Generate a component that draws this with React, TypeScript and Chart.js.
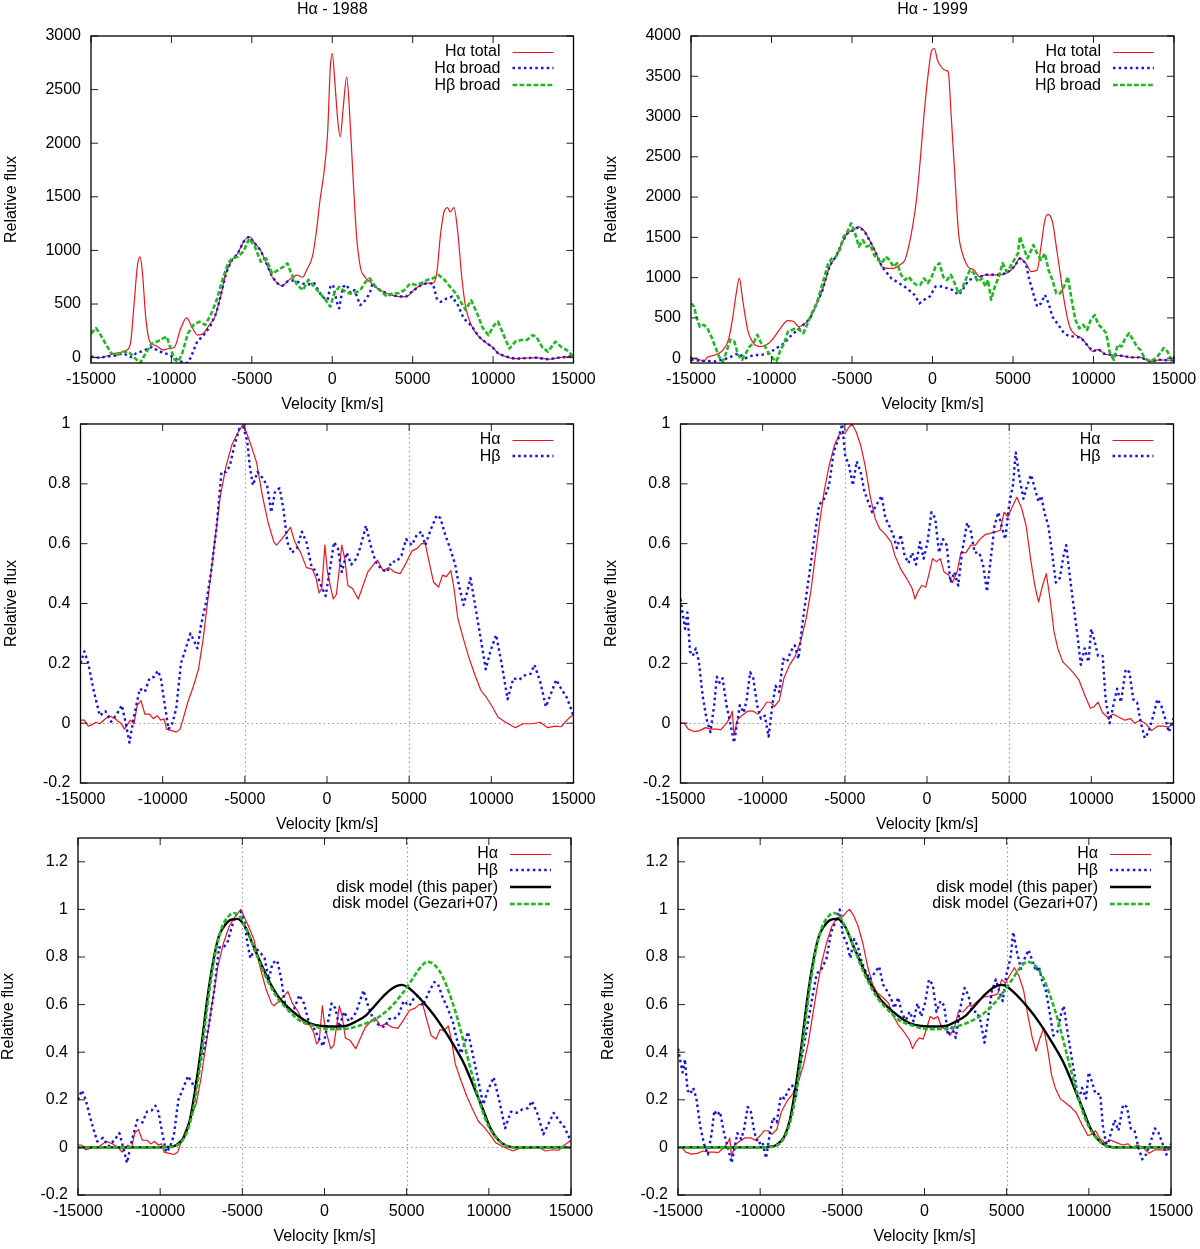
import React, { useEffect, useRef } from "react";
import { Chart, registerables } from "chart.js";
Chart.register(...registerables);

const FONT = "'Liberation Sans', Arial, Helvetica, sans-serif";
Chart.defaults.font.family = FONT;
Chart.defaults.font.size = 16;
Chart.defaults.color = "#000";

// ---------- tick values ----------
const VEL_TICKS = [-15000, -10000, -5000, 0, 5000, 10000, 15000];
const FLUX88_TICKS = [0, 500, 1000, 1500, 2000, 2500, 3000];
const FLUX99_TICKS = [0, 500, 1000, 1500, 2000, 2500, 3000, 3500, 4000];
const NORM_TICKS = [-0.2, 0, 0.2, 0.4, 0.6, 0.8, 1];
const MODEL_TICKS = [-0.2, 0, 0.2, 0.4, 0.6, 0.8, 1, 1.2];
const REF_VEL = [-5000, 5000];
const REF_FLUX = [0];

// ---------- 1988 absolute flux ----------
const HA88_TOTAL = [[-15000,10],[-14500,0],[-13500,40],[-12800,70],[-12550,130],[-12300,540],[-12120,850],[-11950,940],[-11800,790],[-11600,380],[-11350,150],[-11100,120],[-10830,100],[-10520,70],[-10170,85],[-9800,100],[-9450,260],[-9050,370],[-8740,290],[-8380,210],[-8020,225],[-7670,300],[-7300,380],[-6950,570],[-6600,790],[-6240,910],[-5880,970],[-5520,1080],[-5170,1130],[-4810,1065],[-4450,1000],[-4100,880],[-3740,755],[-3380,690],[-3100,670],[-2790,710],[-2430,755],[-2190,770],[-1830,750],[-1600,815],[-1240,940],[-1000,1160],[-760,1470],[-520,1720],[-290,2090],[-120,2710],[0,2835],[170,2555],[340,2215],[500,2060],[670,2310],[900,2620],[1070,2310],[1260,1780],[1500,1160],[1740,850],[2020,755],[2330,710],[2810,645],[3170,615],[3640,585],[4120,570],[4600,570],[5070,630],[5550,680],[5900,695],[6260,695],[6500,790],[6740,1160],[6980,1375],[7170,1400],[7330,1360],[7570,1400],[7810,1160],[8050,755],[8290,475],[8640,305],[9120,195],[9600,135],[9950,100],[10310,40],[10790,10],[11380,-10],[11980,-5],[12690,0],[13400,-15],[14120,0],[15000,15]];
const HA88_BROAD = [[-15000,10],[-14500,0],[-13500,20],[-13000,40],[-12500,5],[-12200,40],[-11800,60],[-11200,100],[-10800,60],[-10200,30],[-9800,0],[-9500,-35],[-9000,-50],[-8800,0],[-8400,150],[-8000,210],[-7600,290],[-7200,420],[-6950,570],[-6600,790],[-6240,910],[-5880,970],[-5520,1080],[-5170,1130],[-4810,1065],[-4450,1000],[-4100,880],[-3740,755],[-3380,690],[-3100,670],[-2790,710],[-2430,720],[-2000,700],[-1600,680],[-1120,695],[-640,570],[-290,540],[-120,660],[50,680],[310,505],[430,460],[670,660],[900,680],[1140,600],[1380,630],[1740,490],[1980,520],[2330,600],[2500,690],[2810,645],[3170,615],[3640,585],[4120,570],[4600,570],[5070,630],[5550,680],[5900,695],[6260,690],[6500,550],[6740,520],[7100,550],[7450,570],[7810,490],[8170,365],[8640,300],[9120,195],[9600,135],[9950,100],[10310,40],[10790,10],[11380,-10],[11980,-5],[12690,0],[13400,-15],[14120,0],[15000,15]];
const HB88_BROAD = [[-15000,225],[-14690,275],[-14450,225],[-14100,130],[-13740,40],[-13380,25],[-13020,55],[-12670,55],[-12300,0],[-11950,-50],[-11600,40],[-11240,130],[-10880,150],[-10520,180],[-10290,195],[-10050,85],[-9800,-20],[-9570,-35],[-9330,40],[-8980,225],[-8620,305],[-8260,335],[-7900,305],[-7550,400],[-7190,535],[-6830,725],[-6480,880],[-6240,925],[-5880,940],[-5520,990],[-5170,1110],[-4810,1035],[-4450,895],[-4100,925],[-3740,785],[-3380,815],[-3020,850],[-2790,880],[-2550,785],[-2190,680],[-1830,630],[-1480,725],[-1120,660],[-760,600],[-400,535],[-120,475],[120,600],[430,660],[670,630],[1030,600],[1380,600],[1740,630],[2090,710],[2330,740],[2690,660],[3050,615],[3400,570],[3760,600],[4120,600],[4480,630],[4830,690],[5190,680],[5550,695],[5900,725],[6260,740],[6620,770],[6980,725],[7330,660],[7690,600],[8050,505],[8290,445],[8640,535],[9000,415],[9360,275],[9710,210],[10070,305],[10310,335],[10660,210],[11020,85],[11380,150],[11740,165],[12100,165],[12450,210],[12690,195],[13050,100],[13400,55],[13880,150],[14230,100],[14590,70],[15000,10]];

// ---------- 1999 absolute flux ----------
const HA99_TOTAL = [[-15000,0],[-14450,-20],[-14210,-40],[-13980,10],[-13500,40],[-13020,100],[-12670,230],[-12430,475],[-12190,805],[-12000,995],[-11790,725],[-11480,350],[-11120,185],[-10640,145],[-10170,185],[-9800,270],[-9450,370],[-8980,465],[-8620,455],[-8310,390],[-7900,435],[-7550,515],[-7190,680],[-6830,845],[-6600,1010],[-6360,1155],[-6000,1260],[-5640,1425],[-5290,1550],[-4930,1590],[-4570,1630],[-4210,1570],[-3860,1445],[-3500,1300],[-3140,1135],[-2790,1115],[-2430,1115],[-2070,1155],[-1710,1220],[-1480,1385],[-1240,1630],[-1000,1960],[-760,2460],[-520,3035],[-290,3490],[-50,3820],[120,3845],[310,3700],[550,3615],[790,3575],[980,3555],[1140,3080],[1380,2295],[1620,1550],[1860,1300],[2210,1135],[2570,1095],[2930,1010],[3290,1035],[3640,1035],[4120,1035],[4600,1055],[5070,1135],[5430,1240],[5790,1180],[6140,1075],[6500,1095],[6740,1385],[6980,1715],[7170,1785],[7450,1695],[7690,1385],[7930,1055],[8170,725],[8520,390],[8880,290],[9240,250],[9600,165],[9950,85],[10310,110],[10660,55],[11140,40],[11740,30],[12330,10],[12930,10],[13520,-40],[14120,-20],[15000,-30]];
const HA99_BROAD = [[-15000,-20],[-14500,-30],[-13500,-40],[-12700,0],[-12070,60],[-11600,0],[-11120,40],[-10640,40],[-10170,60],[-9690,125],[-9210,185],[-8740,290],[-8260,370],[-7790,455],[-7550,515],[-7190,680],[-6830,845],[-6600,1010],[-6360,1155],[-6000,1260],[-5640,1425],[-5290,1550],[-4930,1590],[-4570,1630],[-4210,1570],[-3860,1445],[-3500,1300],[-3140,1135],[-2550,990],[-2070,930],[-1600,870],[-1120,785],[-810,680],[-520,725],[-170,765],[190,890],[550,890],[900,870],[1260,845],[1620,785],[1860,845],[2210,960],[2570,1000],[2930,1010],[3290,1035],[3640,1035],[4120,1035],[4600,1055],[5070,1135],[5430,1240],[5790,1180],[6020,970],[6260,805],[6500,640],[6740,680],[6980,785],[7210,680],[7450,515],[7810,415],[8170,310],[8520,270],[8880,270],[9240,250],[9600,165],[9950,85],[10310,110],[10660,55],[11140,40],[11740,30],[12330,10],[12930,10],[13520,-40],[14120,-20],[15000,-30]];
const HB99_BROAD = [[-15000,680],[-14810,640],[-14640,495],[-14450,390],[-14210,415],[-13980,370],[-13740,270],[-13500,145],[-13260,20],[-13020,-40],[-12790,85],[-12550,230],[-12310,205],[-12070,40],[-11830,-20],[-11600,60],[-11360,145],[-11120,185],[-10880,290],[-10640,185],[-10400,145],[-10170,60],[-9930,0],[-9690,-40],[-9450,100],[-9210,185],[-8980,330],[-8740,350],[-8500,370],[-8260,350],[-8020,310],[-7790,415],[-7550,535],[-7190,680],[-6950,845],[-6710,1010],[-6480,1175],[-6240,1240],[-6000,1260],[-5760,1345],[-5520,1510],[-5290,1570],[-5050,1675],[-4810,1550],[-4570,1385],[-4330,1465],[-4100,1385],[-3860,1405],[-3620,1280],[-3380,1220],[-3140,1180],[-2900,1260],[-2670,1220],[-2430,1135],[-2190,1180],[-1950,1035],[-1710,970],[-1480,1010],[-1240,950],[-1000,910],[-760,910],[-520,990],[-290,930],[-50,1010],[190,1135],[430,1180],[670,1010],[900,970],[1140,1035],[1380,930],[1620,805],[1860,870],[2090,990],[2330,1095],[2570,1055],[2810,950],[3050,990],[3290,890],[3450,970],[3640,725],[3880,890],[4120,1010],[4360,1180],[4600,1075],[4830,1135],[5070,1220],[5310,1300],[5430,1510],[5670,1365],[5900,1240],[6140,1345],[6260,1405],[6500,1300],[6740,1220],[6980,1300],[7210,1095],[7450,970],[7690,805],[7930,805],[8170,890],[8410,1010],[8640,725],[8880,475],[9120,370],[9360,415],[9600,350],[9830,475],[10070,535],[10310,415],[10550,370],[10790,310],[11020,60],[11260,-20],[11500,165],[11740,145],[11980,250],[12210,310],[12450,230],[12690,145],[12930,100],[13170,0],[13520,-40],[13880,0],[14120,60],[14360,125],[14590,85],[14830,-20],[15000,-30]];

// ---------- 1988 normalized ----------
const HA88_NORM = [[-15000,0.01],[-14770,0.01],[-14530,-0.01],[-14300,-0.005],[-14070,0.003],[-13830,-0.002],[-13480,0.015],[-13250,0.025],[-12900,0.015],[-12550,0],[-12320,-0.02],[-11970,0.01],[-11740,-0.002],[-11550,0.06],[-11320,0.075],[-11080,0.03],[-10800,0.03],[-10570,0.015],[-10340,0.025],[-10110,0.01],[-9920,0.015],[-9760,-0.02],[-9450,-0.025],[-9170,-0.03],[-8940,-0.02],[-8750,0.015],[-8470,0.07],[-8120,0.125],[-7820,0.18],[-7540,0.28],[-7190,0.44],[-6840,0.605],[-6490,0.76],[-6140,0.86],[-5790,0.93],[-5440,0.97],[-5090,1.0],[-4860,0.965],[-4630,0.93],[-4280,0.87],[-3930,0.76],[-3580,0.67],[-3230,0.605],[-3070,0.595],[-2760,0.615],[-2410,0.64],[-2230,0.655],[-1950,0.605],[-1600,0.57],[-1250,0.52],[-900,0.515],[-670,0.485],[-480,0.435],[-320,0.45],[-130,0.595],[30,0.505],[200,0.46],[380,0.415],[570,0.43],[730,0.505],[900,0.595],[1080,0.55],[1270,0.46],[1550,0.45],[1900,0.415],[2130,0.45],[2480,0.505],[2830,0.53],[3070,0.545],[3410,0.51],[3760,0.52],[4110,0.505],[4460,0.5],[4810,0.535],[5160,0.575],[5510,0.585],[5750,0.6],[5980,0.6],[6210,0.54],[6490,0.47],[6790,0.455],[7030,0.495],[7260,0.49],[7540,0.51],[7730,0.45],[7960,0.35],[8310,0.28],[8660,0.215],[9010,0.16],[9360,0.11],[9710,0.085],[10060,0.055],[10410,0.02],[10870,0.003],[11460,-0.015],[11920,-0.002],[12510,-0.002],[12970,0.003],[13440,-0.015],[13900,-0.01],[14250,-0.012],[14600,0.01],[15000,0.03]];
const HB88_NORM = [[-15000,0.2],[-14770,0.24],[-14530,0.2],[-14180,0.105],[-13830,0.025],[-13480,0.04],[-13140,0.005],[-12790,0.03],[-12480,0.06],[-12250,0],[-12020,-0.065],[-11740,0.025],[-11390,0.115],[-11080,0.105],[-10800,0.15],[-10520,0.155],[-10290,0.175],[-10110,0.15],[-9870,0.06],[-9640,-0.02],[-9410,0],[-9170,0.05],[-8890,0.2],[-8590,0.25],[-8310,0.3],[-8050,0.27],[-7890,0.25],[-7660,0.33],[-7310,0.415],[-7030,0.515],[-6730,0.65],[-6420,0.84],[-6140,0.84],[-5910,0.86],[-5630,0.93],[-5330,0.985],[-5090,0.99],[-4860,0.945],[-4700,0.86],[-4510,0.795],[-4230,0.84],[-3930,0.82],[-3650,0.795],[-3390,0.705],[-3160,0.775],[-2880,0.785],[-2650,0.715],[-2410,0.605],[-2130,0.57],[-1830,0.585],[-1530,0.64],[-1250,0.605],[-970,0.53],[-670,0.505],[-360,0.46],[-80,0.425],[150,0.505],[430,0.605],[660,0.585],[900,0.505],[1200,0.57],[1480,0.53],[1780,0.55],[2010,0.585],[2370,0.66],[2650,0.595],[2950,0.54],[3300,0.515],[3650,0.505],[3930,0.54],[4230,0.54],[4530,0.56],[4810,0.615],[5160,0.595],[5470,0.63],[5750,0.64],[5980,0.595],[6330,0.65],[6680,0.695],[6910,0.685],[7190,0.63],[7490,0.585],[7800,0.53],[8030,0.46],[8310,0.395],[8540,0.44],[8730,0.485],[9010,0.395],[9360,0.28],[9660,0.18],[9940,0.24],[10290,0.295],[10640,0.195],[10990,0.08],[11340,0.15],[11690,0.145],[12040,0.16],[12390,0.165],[12620,0.195],[12970,0.14],[13320,0.055],[13670,0.105],[13950,0.145],[14250,0.115],[14600,0.085],[15000,0.025]];

// ---------- 1999 normalized ----------
const HA99_NORM = [[-15000,0],[-14770,0],[-14530,-0.02],[-14180,-0.028],[-13830,-0.025],[-13480,-0.015],[-13140,-0.02],[-12790,-0.02],[-12550,-0.022],[-12440,-0.015],[-12200,0],[-11970,0.02],[-11850,0.04],[-11740,-0.04],[-11550,0.01],[-11270,0.025],[-10920,0.04],[-10570,0.04],[-10290,0.03],[-9990,0.05],[-9760,0.07],[-9520,0.07],[-9290,0.055],[-8990,0.075],[-8710,0.15],[-8360,0.195],[-8010,0.225],[-7660,0.28],[-7350,0.35],[-7070,0.44],[-6840,0.54],[-6560,0.66],[-6260,0.775],[-5960,0.86],[-5630,0.93],[-5330,0.965],[-4980,0.97],[-4740,0.99],[-4560,1.0],[-4320,0.975],[-4040,0.93],[-3760,0.86],[-3460,0.76],[-3160,0.685],[-2880,0.65],[-2530,0.63],[-2180,0.605],[-1950,0.56],[-1600,0.515],[-1250,0.485],[-900,0.45],[-730,0.415],[-550,0.44],[-320,0.46],[-80,0.455],[150,0.505],[340,0.55],[570,0.54],[810,0.55],[1040,0.505],[1320,0.495],[1550,0.47],[1830,0.505],[2060,0.57],[2370,0.57],[2670,0.595],[2950,0.595],[3230,0.615],[3530,0.63],[3880,0.635],[4230,0.64],[4460,0.645],[4690,0.705],[4930,0.69],[5160,0.72],[5470,0.755],[5750,0.72],[6030,0.66],[6330,0.54],[6560,0.46],[6790,0.405],[7030,0.46],[7260,0.5],[7490,0.415],[7730,0.305],[7960,0.25],[8260,0.205],[8540,0.19],[8890,0.17],[9240,0.145],[9590,0.095],[9940,0.05],[10170,0.055],[10410,0.07],[10690,0.035],[10990,0.02],[11340,0.03],[11690,0.02],[12040,0.01],[12390,0.015],[12620,0],[12970,0.01],[13320,-0.002],[13670,-0.025],[14020,-0.01],[14370,-0.01],[14720,-0.013],[15000,0.003]];
const HB99_NORM = [[-15000,0.415],[-14880,0.37],[-14720,0.315],[-14580,0.37],[-14420,0.24],[-14250,0.225],[-14070,0.25],[-13880,0.205],[-13650,0.09],[-13420,0.015],[-13180,-0.03],[-12950,0.06],[-12790,0.155],[-12620,0.135],[-12440,0.15],[-12200,0.06],[-11970,0],[-11740,-0.065],[-11550,0],[-11390,0.06],[-11150,0.035],[-10970,0.08],[-10760,0.17],[-10570,0.15],[-10340,0.06],[-10110,0.015],[-9870,0.025],[-9640,-0.045],[-9410,0.06],[-9220,0.125],[-8990,0.105],[-8750,0.215],[-8520,0.205],[-8290,0.24],[-8050,0.26],[-7820,0.215],[-7590,0.33],[-7310,0.44],[-7030,0.55],[-6800,0.64],[-6560,0.73],[-6260,0.75],[-5960,0.795],[-5680,0.905],[-5400,0.95],[-5160,1.0],[-4980,0.895],[-4740,0.86],[-4510,0.795],[-4280,0.875],[-4040,0.84],[-3810,0.775],[-3580,0.74],[-3340,0.705],[-3070,0.73],[-2760,0.76],[-2530,0.685],[-2300,0.66],[-2060,0.63],[-1830,0.585],[-1600,0.63],[-1360,0.56],[-1130,0.535],[-900,0.57],[-670,0.53],[-430,0.605],[-200,0.55],[30,0.605],[270,0.705],[500,0.685],[730,0.57],[970,0.615],[1200,0.595],[1430,0.47],[1670,0.505],[1900,0.46],[2130,0.57],[2440,0.67],[2670,0.64],[2900,0.57],[3180,0.57],[3410,0.53],[3650,0.44],[3880,0.55],[4110,0.66],[4340,0.705],[4580,0.65],[4760,0.615],[5000,0.73],[5230,0.795],[5400,0.905],[5630,0.82],[5870,0.75],[6100,0.795],[6330,0.83],[6560,0.785],[6790,0.74],[6960,0.76],[7140,0.705],[7380,0.66],[7610,0.57],[7840,0.47],[8080,0.485],[8310,0.56],[8470,0.595],[8660,0.505],[8890,0.405],[9130,0.305],[9360,0.195],[9590,0.25],[9830,0.205],[9990,0.315],[10170,0.28],[10410,0.225],[10690,0.225],[10870,0.08],[11110,0],[11340,0.06],[11570,0.115],[11800,0.07],[12090,0.18],[12320,0.17],[12550,0.08],[12780,0.07],[13020,0],[13250,-0.05],[13480,-0.03],[13720,0.015],[14020,0.08],[14250,0.06],[14490,0.015],[14720,-0.03],[15000,0.015]];

// ---------- disk models ----------
const DISK_THIS = [[-15000,0],[-10000,0],[-9500,0.002],[-9010,0.01],[-8540,0.045],[-8190,0.115],[-7840,0.255],[-7490,0.425],[-7140,0.62],[-6790,0.775],[-6440,0.885],[-6100,0.93],[-5750,0.955],[-5300,0.96],[-4810,0.925],[-4350,0.85],[-3880,0.775],[-3420,0.705],[-2830,0.635],[-2250,0.59],[-1550,0.55],[-850,0.52],[-150,0.51],[550,0.508],[1250,0.51],[1950,0.53],[2530,0.555],[3000,0.59],[3580,0.635],[4160,0.67],[4700,0.683],[5090,0.672],[5680,0.635],[6380,0.58],[7080,0.515],[7770,0.44],[8470,0.355],[9170,0.24],[9640,0.16],[10100,0.08],[10570,0.032],[11040,0.008],[11740,0],[15000,0]];
const DISK_GEZARI = [[-15000,0],[-10000,0],[-9200,0.004],[-8780,0.018],[-8310,0.075],[-7960,0.17],[-7610,0.325],[-7260,0.52],[-6910,0.705],[-6560,0.845],[-6210,0.93],[-5860,0.97],[-5510,0.985],[-5160,0.97],[-4810,0.925],[-4350,0.85],[-3880,0.765],[-3420,0.695],[-2830,0.625],[-2250,0.58],[-1550,0.535],[-850,0.515],[-150,0.5],[550,0.497],[1250,0.498],[1950,0.508],[2650,0.525],[3350,0.55],[4040,0.59],[4740,0.647],[5330,0.705],[5790,0.752],[6260,0.78],[6720,0.765],[7190,0.717],[7660,0.635],[8120,0.535],[8590,0.41],[9060,0.285],[9520,0.172],[9990,0.088],[10450,0.04],[10920,0.011],[11500,0],[15000,0]];

// ---------- styles ----------
const STYLES: any = {
  red: { borderColor: "#f0141e", borderWidth: 1.2, borderDash: [] },
  blue: { borderColor: "#1414e6", borderWidth: 2.4, borderDash: [2.5, 3.2] },
  green: { borderColor: "#22b822", borderWidth: 2.6, borderDash: [4.8, 2.2] },
  black: { borderColor: "#000000", borderWidth: 2.4, borderDash: [] },
};

type Series = { label: string; data: number[][]; style: string; smooth?: boolean };
type Spec = {
  key: string;
  box: { left: number; top: number; height: number };
  frame: { l: number; r: number; t: number; b: number };
  yTitleX: number;
  xTitleY: number;
  title?: string;
  titleY?: number;
  yMin: number;
  yMax: number;
  yTicks: number[];
  refs: boolean;
  series: Series[];
};

const SPECS: Spec[] = [
  {
    key: "tl", box: { left: 0, top: 0, height: 420 }, frame: { l: 91, r: 573.5, t: 36, b: 363 },
    yTitleX: 11.5, xTitleY: 405, title: "Hα - 1988", titleY: 10, yMin: -50, yMax: 3000, yTicks: FLUX88_TICKS, refs: false,
    series: [
      { label: "Hα total", data: HA88_TOTAL, style: "red", smooth: true },
      { label: "Hα broad", data: HA88_BROAD, style: "blue" },
      { label: "Hβ broad", data: HB88_BROAD, style: "green" },
    ],
  },
  {
    key: "tr", box: { left: 600, top: 0, height: 420 }, frame: { l: 691, r: 1174, t: 36, b: 363 },
    yTitleX: 611.5, xTitleY: 405, title: "Hα - 1999", titleY: 10, yMin: -60, yMax: 4000, yTicks: FLUX99_TICKS, refs: false,
    series: [
      { label: "Hα total", data: HA99_TOTAL, style: "red", smooth: true },
      { label: "Hα broad", data: HA99_BROAD, style: "blue" },
      { label: "Hβ broad", data: HB99_BROAD, style: "green" },
    ],
  },
  {
    key: "ml", box: { left: 0, top: 410, height: 430 }, frame: { l: 80.5, r: 573.5, t: 424, b: 783 },
    yTitleX: 11.5, xTitleY: 825, yMin: -0.2, yMax: 1, yTicks: NORM_TICKS, refs: true,
    series: [
      { label: "Hα", data: HA88_NORM, style: "red" },
      { label: "Hβ", data: HB88_NORM, style: "blue" },
    ],
  },
  {
    key: "mr", box: { left: 600, top: 410, height: 430 }, frame: { l: 680.5, r: 1173.5, t: 424, b: 783 },
    yTitleX: 611.5, xTitleY: 825, yMin: -0.2, yMax: 1, yTicks: NORM_TICKS, refs: true,
    series: [
      { label: "Hα", data: HA99_NORM, style: "red" },
      { label: "Hβ", data: HB99_NORM, style: "blue" },
    ],
  },
  {
    key: "bl", box: { left: 0, top: 832, height: 417 }, frame: { l: 78, r: 571, t: 838, b: 1195 },
    yTitleX: 8.5, xTitleY: 1236.5, yMin: -0.2, yMax: 1.3, yTicks: MODEL_TICKS, refs: true,
    series: [
      { label: "Hα", data: HA88_NORM, style: "red" },
      { label: "Hβ", data: HB88_NORM, style: "blue" },
      { label: "disk model (this paper)", data: DISK_THIS, style: "black", smooth: true },
      { label: "disk model (Gezari+07)", data: DISK_GEZARI, style: "green", smooth: true },
    ],
  },
  {
    key: "br", box: { left: 600, top: 832, height: 417 }, frame: { l: 678, r: 1171, t: 838, b: 1195 },
    yTitleX: 608.5, xTitleY: 1236.5, yMin: -0.2, yMax: 1.3, yTicks: MODEL_TICKS, refs: true,
    series: [
      { label: "Hα", data: HA99_NORM, style: "red" },
      { label: "Hβ", data: HB99_NORM, style: "blue" },
      { label: "disk model (this paper)", data: DISK_THIS, style: "black", smooth: true },
      { label: "disk model (Gezari+07)", data: DISK_GEZARI, style: "green", smooth: true },
    ],
  },
];

const gnuFrame = {
  id: "gnuframe",
  beforeDatasetsDraw(chart: any, _args: any, opts: any) {
    if (!opts.refs) return;
    const { ctx, chartArea: a, scales } = chart;
    ctx.save();
    ctx.strokeStyle = "#9c9c9c";
    ctx.lineWidth = 1.2;
    ctx.setLineDash([1.6, 2.9]);
    for (const v of REF_VEL) {
      const px = Math.round(scales.x.getPixelForValue(v)) + 0.5;
      ctx.beginPath(); ctx.moveTo(px, a.top); ctx.lineTo(px, a.bottom); ctx.stroke();
    }
    for (const f of REF_FLUX) {
      const py = Math.round(scales.y.getPixelForValue(f)) + 0.5;
      ctx.beginPath(); ctx.moveTo(a.left, py); ctx.lineTo(a.right, py); ctx.stroke();
    }
    ctx.restore();
  },
  afterDatasetsDraw(chart: any, _args: any, opts: any) {
    const { ctx, chartArea: a, scales } = chart;
    ctx.save();
    ctx.setLineDash([]);
    // ticks (inward, mirrored)
    ctx.strokeStyle = "#222";
    ctx.lineWidth = 1;
    const tl = 7;
    for (const v of VEL_TICKS) {
      const px = scales.x.getPixelForValue(v);
      ctx.beginPath();
      ctx.moveTo(px, a.bottom); ctx.lineTo(px, a.bottom - tl);
      ctx.moveTo(px, a.top); ctx.lineTo(px, a.top + tl);
      ctx.stroke();
    }
    for (const f of opts.yTicks) {
      const py = scales.y.getPixelForValue(f);
      ctx.beginPath();
      ctx.moveTo(a.left, py); ctx.lineTo(a.left + tl, py);
      ctx.moveTo(a.right, py); ctx.lineTo(a.right - tl, py);
      ctx.stroke();
    }
    // frame
    ctx.strokeStyle = "#000";
    ctx.lineWidth = 1.3;
    ctx.strokeRect(a.left, a.top, a.right - a.left, a.bottom - a.top);
    // legend (gnuplot style: right-aligned text, then sample line)
    ctx.font = `16px ${FONT}`;
    ctx.textAlign = "right";
    ctx.textBaseline = "middle";
    chart.data.datasets.forEach((ds: any, i: number) => {
      const y = a.top + 15.5 + i * 16.8;
      ctx.fillStyle = "#000";
      ctx.fillText(ds.label, a.right - 73, y);
      const ly = ds.borderWidth < 2 ? Math.round(y) + 0.5 : Math.round(y);
      ctx.strokeStyle = ds.borderColor;
      ctx.lineWidth = ds.borderWidth < 2 ? 1 : ds.borderWidth;
      ctx.setLineDash(ds.borderDash || []);
      ctx.beginPath();
      ctx.moveTo(a.right - 61, ly);
      ctx.lineTo(a.right - 20, ly);
      ctx.stroke();
    });
    ctx.restore();
  },
};

function buildConfig(spec: Spec): any {
  const { box, frame } = spec;
  const bottomEdge = box.top + box.height;
  const titleOpts = spec.title
    ? {
        display: true,
        text: spec.title,
        fullSize: false,
        font: { size: 16, family: FONT, weight: "normal", lineHeight: 1 },
        color: "#000",
        padding: { top: (spec.titleY as number) - box.top - 8, bottom: frame.t - ((spec.titleY as number) + 8) },
      }
    : { display: false };
  return {
    type: "line",
    data: {
      datasets: spec.series.map((s, i) => ({
        label: s.label,
        data: s.data.map(([x, y]) => ({ x, y })),
        borderColor: STYLES[s.style].borderColor,
        borderWidth: STYLES[s.style].borderWidth,
        borderDash: STYLES[s.style].borderDash,
        pointRadius: 0,
        fill: false,
        order: -i,
        cubicInterpolationMode: s.smooth ? "monotone" : "default",
        tension: 0,
        borderCapStyle: "butt",
        borderJoinStyle: "round",
      })),
    },
    options: {
      responsive: false,
      maintainAspectRatio: false,
      animation: false,
      events: [],
      layout: {
        padding: {
          left: 0,
          right: box.left + 600 - frame.r,
          top: spec.title ? 0 : frame.t - box.top,
          bottom: 0,
        },
      },
      plugins: {
        legend: { display: false },
        tooltip: { enabled: false },
        title: titleOpts,
        gnuframe: { refs: spec.refs, yTicks: spec.yTicks },
      },
      scales: {
        x: {
          type: "linear",
          position: "bottom",
          min: -15000,
          max: 15000,
          grid: { display: false, drawTicks: false },
          border: { display: false },
          ticks: { padding: 7.4, autoSkip: false, maxRotation: 0, color: "#000", font: { size: 16, family: FONT }, callback: (v: any) => String(v) },
          afterBuildTicks: (s: any) => { s.ticks = VEL_TICKS.map((v) => ({ value: v })); },
          afterFit: (s: any) => { s.height = bottomEdge - frame.b; s.paddingLeft = 0; s.paddingRight = 0; s.paddingTop = 0; s.paddingBottom = 0; },
          title: {
            display: true,
            text: "Velocity [km/s]",
            color: "#000",
            font: { size: 16, family: FONT, lineHeight: 1 },
            padding: { top: 0, bottom: bottomEdge - spec.xTitleY - 8 },
          },
        },
        y: {
          type: "linear",
          position: "left",
          min: spec.yMin,
          max: spec.yMax,
          grid: { display: false, drawTicks: false },
          border: { display: false },
          ticks: { padding: 10, autoSkip: false, color: "#000", font: { size: 16, family: FONT }, callback: (v: any) => String(v) },
          afterBuildTicks: (s: any) => { s.ticks = spec.yTicks.map((v) => ({ value: v })); },
          afterFit: (s: any) => { s.width = frame.l - box.left; s.paddingLeft = 0; s.paddingRight = 0; s.paddingTop = 0; s.paddingBottom = 0; },
          title: {
            display: true,
            text: "Relative flux",
            color: "#000",
            font: { size: 16, family: FONT, lineHeight: 1 },
            padding: { top: spec.yTitleX - box.left - 8, bottom: 0 },
          },
        },
      },
    },
    plugins: [gnuFrame],
  };
}

function Panel({ spec }: { spec: Spec }) {
  const ref = useRef<HTMLCanvasElement | null>(null);
  useEffect(() => {
    if (!ref.current) return;
    const chart = new Chart(ref.current, buildConfig(spec));
    return () => chart.destroy();
  }, [spec]);
  return (
    <canvas
      ref={ref}
      width={600}
      height={spec.box.height}
      style={{ position: "absolute", left: spec.box.left, top: spec.box.top, width: 600, height: spec.box.height }}
    />
  );
}

export default function App() {
  return (
    <div style={{ position: "absolute", left: 0, top: 0, width: 1200, height: 1249, background: "#fff", overflow: "hidden" }}>
      {SPECS.map((s) => (
        <Panel key={s.key} spec={s} />
      ))}
    </div>
  );
}
